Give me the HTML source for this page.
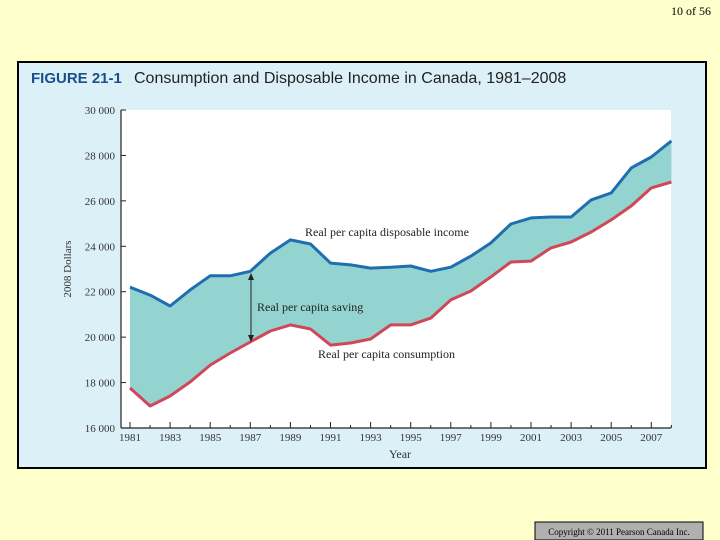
<!DOCTYPE html>
<html><head><meta charset="utf-8"><style>
html,body{margin:0;padding:0;background:#ffffcc;width:720px;height:540px;overflow:hidden}
svg{display:block}
text{font-family:"Liberation Serif",serif}
</style></head><body>
<svg id="chart" width="720" height="540" viewBox="0 0 720 540">
<rect x="0" y="0" width="720" height="540" fill="#ffffcc"/>
<text x="711" y="15" font-size="12" text-anchor="end">10 of 56</text>
<rect x="18" y="62" width="688" height="406" fill="#dcf0f8" stroke="#000" stroke-width="2"/>
<text x="31" y="83" font-size="15" font-weight="bold" fill="#1a4f8a" style="font-family:'Liberation Sans',sans-serif">FIGURE 21-1</text>
<text x="134" y="83" font-size="16" fill="#222" style="font-family:'Liberation Sans',sans-serif">Consumption and Disposable Income in Canada, 1981–2008</text>
<rect x="121" y="110" width="550" height="318" fill="#fff"/>
<g id="marks"></g>
<g id="axes"></g>
<text x="71" y="269" font-size="11" fill="#333" text-anchor="middle" transform="rotate(-90 71 269)">2008 Dollars</text>
<text x="400" y="458" font-size="12" fill="#333" text-anchor="middle">Year</text>
<text x="305" y="236" font-size="12" fill="#222">Real per capita disposable income</text>
<text x="257" y="311" font-size="12" fill="#222">Real per capita saving</text>
<text x="318" y="358" font-size="12" fill="#222">Real per capita consumption</text>
<g>
<line x1="251" y1="276" x2="251" y2="339" stroke="#222" stroke-width="1"/>
<polygon points="251,273 248,280 254,280" fill="#222"/>
<polygon points="251,342 248,335 254,335" fill="#222"/>
</g>
<rect x="535" y="522" width="168" height="18" fill="#b0b0b0" stroke="#000" stroke-width="1"/>
<text x="619" y="535" font-size="9" text-anchor="middle">Copyright © 2011 Pearson Canada Inc.</text>
</svg>
<script>
const years = [1981,1982,1983,1984,1985,1986,1987,1988,1989,1990,1991,1992,1993,1994,1995,1996,1997,1998,1999,2000,2001,2002,2003,2004,2005,2006,2007,2008];
const income = [22200,21850,21370,22080,22700,22700,22900,23700,24280,24100,23260,23180,23040,23080,23130,22900,23080,23570,24150,24980,25250,25290,25290,26040,26350,27450,27930,28640];
const consumption = [17760,16970,17410,18030,18770,19300,19790,20270,20540,20360,19650,19740,19920,20540,20540,20840,21640,22030,22650,23310,23350,23930,24190,24630,25160,25780,26570,26830];
const yTicks = [16000,18000,20000,22000,24000,26000,28000,30000];
const yTickLabels = ["16 000","18 000","20 000","22 000","24 000","26 000","28 000","30 000"];
const xTicks = [1981,1983,1985,1987,1989,1991,1993,1995,1997,1999,2001,2003,2005,2007];

const NS = "http://www.w3.org/2000/svg";
function xs(v){ return 130 + (v-1981)*20.05; }
function ys(v){ return 428 - (v-16000)*318/14000; }
function mk(tag, attrs, parent){
  const e = document.createElementNS(NS, tag);
  for (const k in attrs) e.setAttribute(k, attrs[k]);
  parent.appendChild(e); return e;
}
const marks = document.getElementById('marks');
const axes = document.getElementById('axes');

const incPts = years.map((y,i)=>xs(y).toFixed(1)+','+ys(income[i]).toFixed(1));
const conPts = years.map((y,i)=>xs(y).toFixed(1)+','+ys(consumption[i]).toFixed(1));
const area = mk('polygon', {points: incPts.concat(conPts.slice().reverse()).join(' '), fill:'#94d4d0'}, marks);


const li = mk('polyline', {points: incPts.join(' '), fill:'none', stroke:'#1f6fb0', 'stroke-width':3, 'stroke-linejoin':'round'}, marks);


const lc = mk('polyline', {points: conPts.join(' '), fill:'none', stroke:'#d04858', 'stroke-width':3, 'stroke-linejoin':'round'}, marks);



const ya = mk('line', {x1:121, y1:110, x2:121, y2:428, stroke:'#222', 'stroke-width':1.2}, axes);


const xa = mk('line', {x1:121, y1:428, x2:671, y2:428, stroke:'#222', 'stroke-width':1.2}, axes);


yTicks.forEach((v,i)=>{
  const t = mk('line', {x1:121, y1:ys(v), x2:126, y2:ys(v), stroke:'#222'}, axes);
  
  
  const l = mk('text', {x:115, y:ys(v)+4, 'font-size':11, 'text-anchor':'end', fill:'#333'}, axes);
  l.textContent = yTickLabels[i];
  
  
});
years.forEach(y=>{
  const major = xTicks.indexOf(y) >= 0;
  const t = mk('line', {x1:xs(y), y1:428, x2:xs(y), y2:major?422:425, stroke:'#222'}, axes);
  
  
});
xTicks.forEach(y=>{
  const l = mk('text', {x:xs(y), y:441, 'font-size':11, 'text-anchor':'middle', fill:'#333'}, axes);
  l.textContent = y;
  
  
});
</script>
</body></html>
